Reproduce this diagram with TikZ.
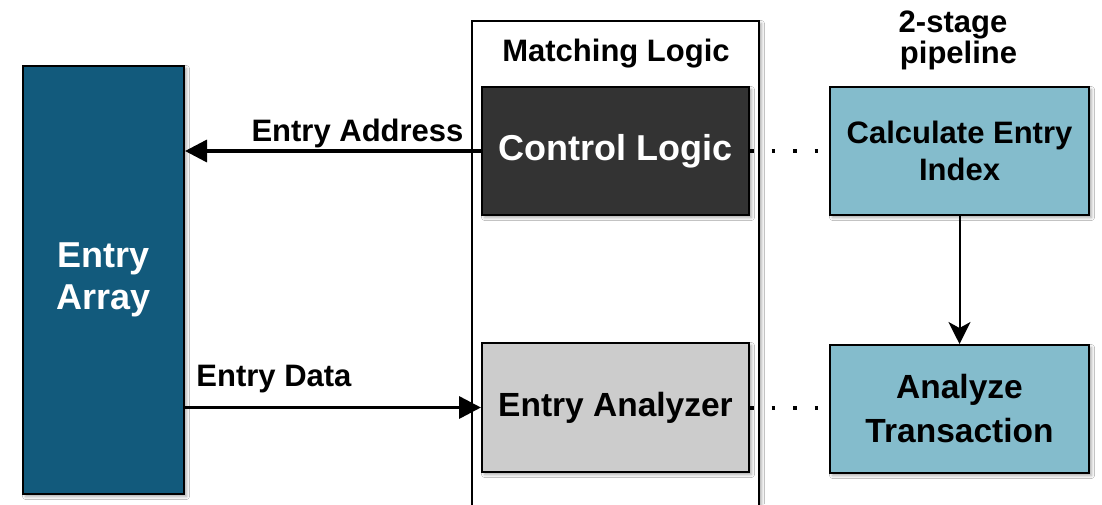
\documentclass[tikz,border=0pt]{standalone}
\usepackage{fontspec}
\setmainfont{Liberation Sans}
\usetikzlibrary{arrows.meta,shadows.blur}
\definecolor{arrayblue}{HTML}{125A7C}
\definecolor{stageteal}{HTML}{84BCCC}
\definecolor{ctrlgray}{HTML}{333333}
\definecolor{analgray}{HTML}{CCCCCC}

\begin{document}
\begin{tikzpicture}[x=1pt,y=-1pt,
  box/.style={draw=black, line width=2pt, inner sep=0pt, align=center,
    blur shadow={shadow xshift=2.5pt, shadow yshift=-2.5pt,
      shadow blur radius=3pt, shadow opacity=35}},
  lbl/.style={inner sep=0pt, anchor=base, font=\bfseries\fontsize{31}{36}\selectfont},
  bigtxt/.style={font=\bfseries\fontsize{36}{42}\selectfont},
  midtxt/.style={font=\bfseries\fontsize{33.5}{44}\selectfont},
  stdtxt/.style={font=\bfseries\fontsize{31}{37}\selectfont},
  wire/.style={line width=3.5pt, -{Triangle[length=22pt,width=22pt]}},
  dotline/.style={line width=4pt, dash pattern=on 3.5pt off 18pt},
]
\clip (0,0) rectangle (1102,504);
\fill[white] (0,0) rectangle (1102,504);

% matching logic container
\node[box, fill=white, minimum width=287pt, minimum height=500pt, anchor=north]
  (match) at (615.5,20) {};
\node[lbl] (matchlbl) at (616,61.5) {Matching Logic};

% main blocks
\node[box, fill=arrayblue, text=white, bigtxt, minimum width=161pt, minimum height=428pt]
  (array) at (103.5,280) {Entry\\Array};
\node[box, fill=ctrlgray, text=white, bigtxt, minimum width=267pt, minimum height=128pt]
  (ctrl) at (615.5,151) {Control Logic};
\node[box, fill=analgray, midtxt, minimum width=267pt, minimum height=129pt]
  (analyzer) at (615.5,407.5) {Entry Analyzer};
\node[box, fill=stageteal, stdtxt, minimum width=259pt, minimum height=128pt]
  (calc) at (959.5,151) {Calculate Entry\\Index};
\node[box, fill=stageteal, midtxt, minimum width=259pt, minimum height=128pt]
  (analyze) at (959.5,409) {Analyze\\Transaction};

% pipeline heading
\node[lbl] (pipe1) at (953,32) {2-stage};
\node[lbl] (pipe2) at (958.5,63) {pipeline};

% connectors
\draw[wire] (ctrl.west) -- (array.east |- ctrl.west);
\node[lbl] (addrlbl) at (357.5,141) {Entry Address};
\draw[wire] (array.east |- analyzer.west) -- (analyzer.west);
\node[lbl] (datalbl) at (274,386) {Entry Data};
\draw[dotline] (ctrl.east) -- (calc.west);
\draw[dotline] (analyzer.east) -- (analyze.west |- analyzer.east);
\draw[line width=2pt, -{Stealth[length=22pt,width=22pt,inset=6pt]}] (calc.south) -- (analyze.north);
\end{tikzpicture}
\end{document}
